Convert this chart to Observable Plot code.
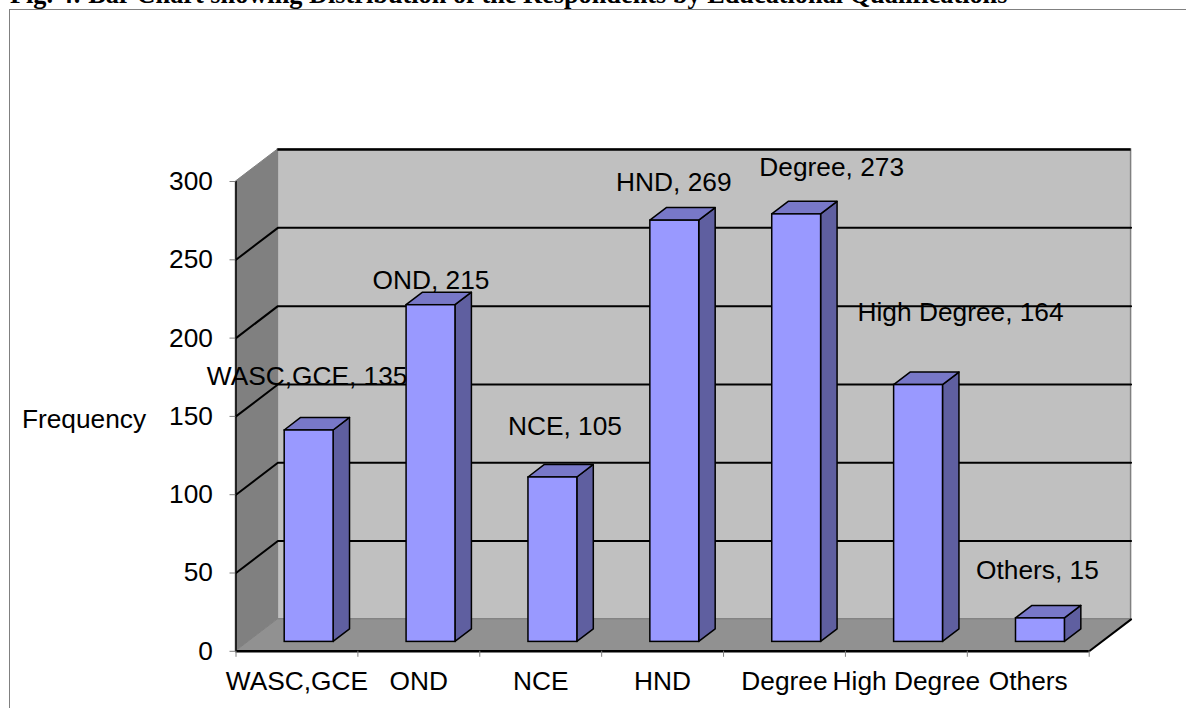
<!DOCTYPE html>
<html>
<head>
<meta charset="utf-8">
<script src="https://cdn.jsdelivr.net/npm/d3@7"></script>
<script src="https://cdn.jsdelivr.net/npm/@observablehq/plot@0.6"></script>
<style>
html,body{margin:0;padding:0;background:#fff;overflow:hidden}
#wrap{position:relative;width:1186px;height:708px;overflow:hidden}
#title{position:absolute;left:10px;top:-15.4px;font:bold 26.3px/20px "Liberation Serif",serif;color:#000;white-space:nowrap}
#frame{position:absolute;left:9px;top:9px;width:1200px;height:720px;border-left:1px solid #808080;border-top:1px solid #808080}
#chart{position:absolute;left:0;top:0}
svg{background:transparent!important}
</style>
</head>
<body>
<div id="wrap">
<div id="frame"></div>
<div id="title">Fig. 4: Bar Chart showing Distribution of the Respondents by Educational Qualifications</div>
<div id="chart"></div>
</div>
<script>
const categories = ["WASC,GCE","OND","NCE","HND","Degree","High Degree","Others"];
const frequency = [135,215,105,269,273,164,15];
const yTicks = [0,50,100,150,200,250,300];
const gridValues = [50,100,150,200,250];
const labelDx = [-2,0,12,-1,35,42,-3];
const labelDy = [-54,-25,-51,-38,-47,-73,-48];

// oblique depth, in scale units
const wallX = 0.3437, wallY = 20.4;
const barOffX = 0.1, barOffY = 6.0, barW = 0.401, barDX = 0.135, barDY = 8;
const n = categories.length;

const bars = categories.map((c,i)=>{
  const xl = i + 0.5 + barOffX - barW/2, xr = xl + barW;
  return {c, v:frequency[i], i, xl, xr, y0:barOffY, yt:barOffY+frequency[i]};
});
const side = bars.flatMap(b=>[
  {k:b.c,x:b.xr,y1:b.y0,y2:b.yt},
  {k:b.c,x:b.xr+barDX,y1:b.y0+barDY,y2:b.yt+barDY}
]);
const top_ = bars.flatMap(b=>[
  {k:b.c,y:b.yt,x1:b.xl,x2:b.xr},
  {k:b.c,y:b.yt+barDY,x1:b.xl+barDX,x2:b.xr+barDX}
]);
const grid = gridValues.flatMap(v=>[
  {k:v,x:0,y:v},
  {k:v,x:wallX,y:v+wallY},
  {k:v,x:n+wallX,y:v+wallY}
]);
const gray="#808080";
const chart = Plot.plot({
  width:1186,height:708,
  marginLeft:235.5,marginRight:97.3,marginTop:181,marginBottom:57.2,
  style:{fontFamily:"'Liberation Sans',Arial,sans-serif",fontSize:"26.3px",color:"#000",background:"transparent",overflow:"visible"},
  x:{type:"linear",domain:[0,n],axis:null},
  y:{domain:[0,300],axis:null},
  marks:[
    // back wall
    Plot.rect([0],{x1:wallX,x2:n+wallX,y1:wallY,y2:300+wallY,fill:"#c0c0c0",stroke:gray,strokeWidth:1.5}),
    // left wall
    Plot.areaY([{x:0,y1:0,y2:300},{x:wallX,y1:wallY,y2:300+wallY}],{x:"x",y1:"y1",y2:"y2",fill:"#808080",stroke:gray}),
    // floor
    Plot.areaX([{y:0,x1:0,x2:n},{y:wallY,x1:wallX,x2:n+wallX}],{y:"y",x1:"x1",x2:"x2",fill:"#919191",stroke:gray}),
    // grid
    Plot.line(grid,{x:"x",y:"y",z:"k",stroke:"#000",strokeWidth:2}),
    Plot.ruleY([300+wallY],{x1:wallX,x2:n+wallX,stroke:"#000",strokeWidth:2.5}),
    // axis edges
    Plot.ruleX([0],{y1:0,y2:300,stroke:"#000",strokeWidth:1.5}),
    Plot.ruleY([0],{x1:0,x2:n,stroke:"#000",strokeWidth:2.5}),
    Plot.line([{x:n,y:0},{x:n+wallX,y:wallY}],{x:"x",y:"y",stroke:"#000",strokeWidth:2}),
    // bars
    Plot.areaY(side,{x:"x",y1:"y1",y2:"y2",z:"k",fill:"#5f5fa0",stroke:"#000",strokeWidth:1.5,strokeLinejoin:"round"}),
    Plot.areaX(top_,{y:"y",x1:"x1",x2:"x2",z:"k",fill:"#7878c8",stroke:"#000",strokeWidth:1.5,strokeLinejoin:"round"}),
    Plot.rect(bars,{x1:"xl",x2:"xr",y1:"y0",y2:"yt",fill:"#9999ff",stroke:"#000",strokeWidth:1.5}),
    // axes
    Plot.axisY({ticks:yTicks,tickSize:6,tickPadding:17,stroke:gray,fill:"#000",label:null}),
    Plot.axisX({ticks:d3.range(0,n+1),tickSize:6,stroke:gray,tickFormat:()=>"",label:null}),
    Plot.axisX({ticks:d3.range(0,n).map(i=>i+0.5),tickSize:0,tickPadding:20,tickFormat:d=>categories[Math.floor(d)],label:null,fill:"#000"}),
    Plot.text(["Frequency"],{x:0,y:150,dx:-152,dy:3,fill:"#000"}),
    // data labels
    ...bars.map((b,i)=>Plot.text([b],{x:b.xl+barW/2,y:b.yt,text:d=>`${d.c}, ${d.v}`,dx:labelDx[i],dy:labelDy[i],fill:"#000"}))
  ]
});
document.getElementById("chart").appendChild(chart);
</script>
</body>
</html>
